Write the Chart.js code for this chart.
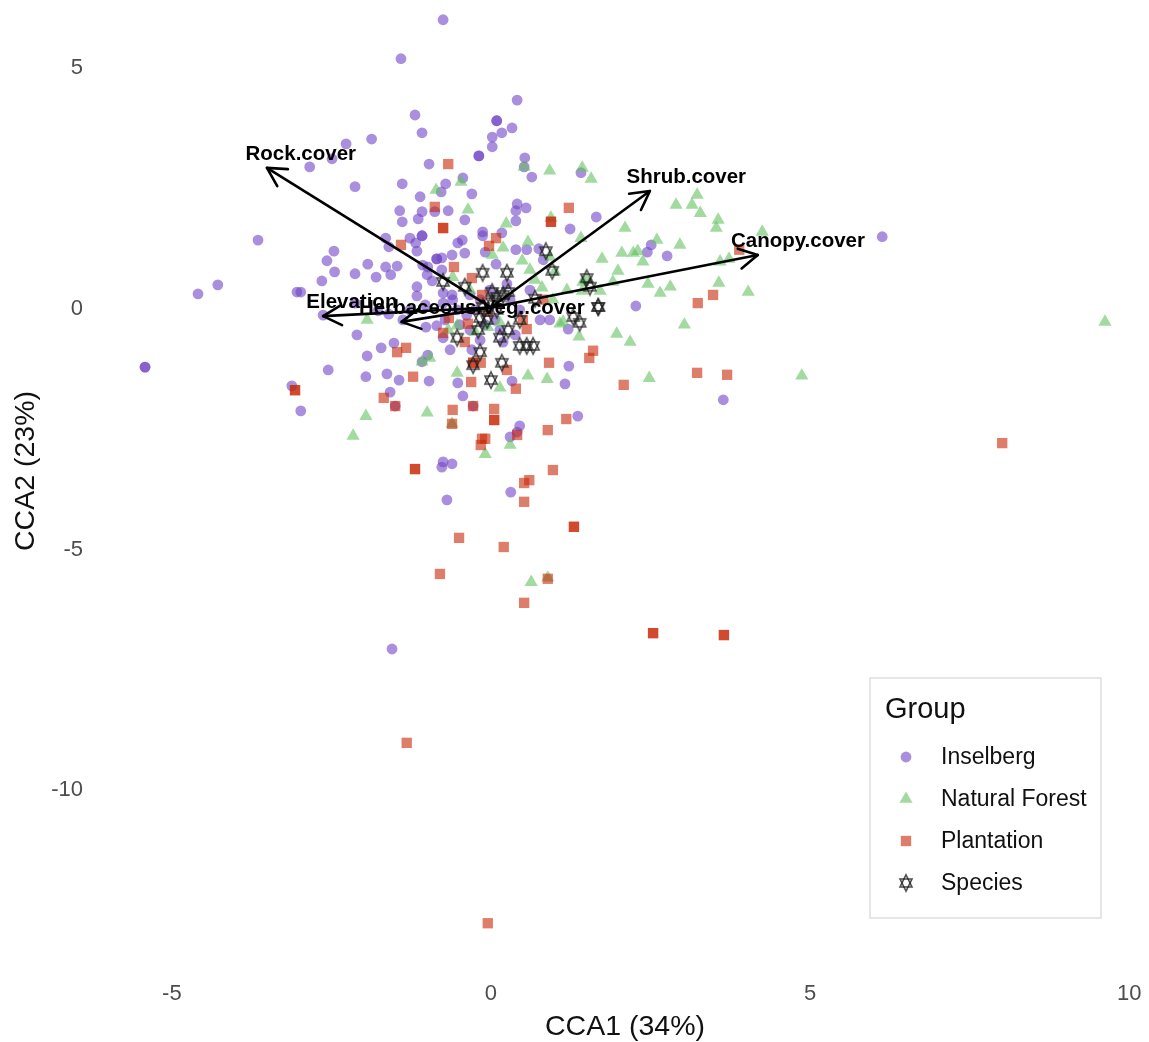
<!DOCTYPE html>
<html>
<head>
<meta charset="utf-8">
<title>CCA biplot</title>
<script src="https://cdn.jsdelivr.net/npm/chart.js@4"></script>
<style>
body { margin: 0; background: #fff; }
canvas { display: block; }
</style>
</head>
<body>
<canvas id="biplot" width="1149" height="1042"></canvas>
<script>
// values, as [CCA1, CCA2]
var inselberg = [
[-0.75,5.98],[-1.41,5.17],[0.41,4.31],[0.09,3.88],[0.09,3.88],[0.17,3.63],[0.33,3.73],[0.02,3.54],[0.02,3.34],[-0.19,3.15],
[-0.19,3.15],[-1.19,4.00],[-1.08,3.63],[-1.87,3.50],[-2.27,3.40],[-2.49,3.09],[-2.84,2.92],[-2.13,2.51],[-1.39,2.57],[-0.97,2.98],
[0.53,3.11],[0.52,2.92],[0.64,2.71],[-0.44,2.69],[-0.71,2.57],[-0.78,2.40],[-0.30,2.36],[-1.11,2.30],[-1.43,2.01],[-1.08,1.99],
[-0.88,1.99],[-0.67,2.01],[-1.14,1.84],[-1.39,1.78],[-0.41,1.82],[0.41,2.15],[0.39,2.01],[0.55,2.07],[0.39,1.80],[-0.13,1.57],
[-0.13,1.49],[0.17,1.55],[-0.52,1.34],[-0.09,1.15],[0.39,1.20],[0.56,1.20],[-1.65,1.44],[-1.60,1.26],[-1.27,1.44],[-1.08,1.49],
[-1.08,1.49],[-1.18,1.34],[-1.16,1.17],[-1.93,0.90],[-1.65,0.84],[-1.47,0.86],[-1.57,0.68],[-0.85,1.01],[-0.85,1.01],[-0.77,1.03],
[-0.61,1.09],[-0.41,1.13],[-1.07,0.88],[-0.99,0.84],[-0.77,0.78],[-1.00,0.68],[-0.92,0.55],[1.41,2.80],[1.65,1.88],[1.24,1.63],
[0.75,1.22],[0.82,0.99],[2.45,1.15],[2.51,1.30],[2.76,1.07],[2.27,0.03],[1.21,-0.45],[1.22,-1.22],[6.13,1.47],[-3.65,1.40],
[-4.28,0.47],[-4.59,0.28],[-5.42,-1.24],[-5.42,-1.24],[-2.55,-1.30],[-3.12,-1.63],[-2.98,-2.15],[-2.46,1.17],[-2.57,0.97],[-2.45,0.74],
[-2.13,0.70],[-2.65,0.55],[-1.80,0.63],[-3.04,0.32],[-2.98,0.32],[-2.63,-0.16],[-2.10,-0.57],[-1.94,-1.01],[-1.96,-1.44],[-1.16,0.43],
[-1.16,0.24],[-0.75,0.30],[-0.61,0.26],[-1.52,-0.74],[-1.72,-0.84],[-1.63,-1.38],[-1.44,-1.51],[-0.97,-1.53],[-1.58,-1.76],[-0.99,-0.99],
[-1.02,-0.41],[-0.85,-0.38],[-0.75,-0.63],[-1.38,-0.26],[-0.44,-1.84],[-0.52,-1.57],[-0.30,-0.88],[0.08,0.90],[-0.45,1.40],[0.25,0.49],
[-0.75,0.09],[-0.60,0.16],[-0.53,-0.05],[-0.38,-0.16],[0.19,-0.72],[0.33,-1.53],[1.16,-1.59],[1.36,-2.26],[0.45,-2.46],[0.41,-2.59],
[0.30,-2.69],[-0.75,-3.21],[-0.77,-3.32],[-0.61,-3.25],[0.31,-3.84],[-0.69,-4.00],[3.64,-1.92],[-1.55,-7.10],[-1.50,-2.05],[-0.28,-2.05],
[-1.08,-1.13],[-0.33,0.26],[-0.17,0.16],[-0.25,-0.05],[-0.02,0.36],[0.06,-0.26],[-0.09,-0.36],[0.30,0.16],[0.45,-0.05],[0.61,0.36],
[0.77,-0.26],[-0.33,-0.47],[-0.49,-0.36],[-0.17,-0.68],[0.14,-0.47],[0.38,-0.57],[0.92,-0.26],[-1.77,-0.07],[-1.60,-0.14],[-2.13,0.09],
[-0.64,-0.88],[-0.72,-0.26],[-1.27,-0.05],[-1.03,0.05]
];
var naturalForest = [
[-0.86,2.44],[-0.47,2.61],[-0.36,2.03],[0.24,1.74],[0.52,2.92],[0.92,2.84],[1.43,2.90],[1.57,2.67],[0.94,1.86],[2.10,1.65],
[1.41,1.44],[0.58,1.36],[0.19,1.24],[0.49,0.97],[1.74,1.01],[2.05,1.13],[2.23,1.13],[2.30,1.17],[2.38,0.95],[2.60,1.40],
[1.99,0.76],[0.61,0.78],[2.90,2.13],[3.23,2.34],[3.15,2.13],[3.28,1.96],[3.56,1.82],[3.53,1.65],[4.25,1.57],[2.96,1.30],
[3.59,0.95],[3.73,1.01],[1.91,0.53],[2.46,0.49],[2.65,0.30],[2.81,0.43],[3.57,0.51],[4.03,0.32],[3.03,-0.36],[1.97,-0.55],
[2.18,-0.72],[1.38,-0.61],[1.44,0.53],[1.71,0.34],[1.19,0.36],[1.00,0.74],[0.80,0.41],[1.13,-0.30],[1.08,-0.34],[0.92,1.05],
[0.97,0.16],[1.50,0.57],[9.62,-0.30],[4.87,-1.42],[2.48,-1.47],[-0.53,-1.36],[0.58,-1.42],[0.88,-1.49],[0.14,-1.67],[-1.96,-2.26],
[-1.00,-2.19],[-2.16,-2.67],[-0.61,-2.42],[0.30,-2.86],[-0.09,-3.05],[0.63,-5.71],[0.89,-5.62],[-1.94,-0.26],[-1.08,-1.13],[-0.96,-1.05],
[0.02,1.09],[0.69,0.57],[-0.33,0.36],[-0.60,0.63],[-0.53,-0.38],[-0.05,-0.41],[0.14,-0.32],[-0.67,-0.47],[-0.25,-0.51],[1.43,0.34]
];
var plantation = [
[-0.67,2.98],[-0.88,2.09],[-0.75,1.65],[-0.75,1.65],[1.22,2.07],[0.94,1.78],[0.94,1.78],[-1.41,1.30],[-0.58,0.84],[0.08,1.44],
[-0.03,1.28],[3.89,1.20],[3.48,0.26],[3.24,0.09],[1.60,-0.90],[1.54,-1.05],[0.91,-1.15],[-0.30,0.61],[-0.14,0.26],[-0.05,-0.09],
[-0.66,-0.22],[-0.36,-0.34],[-0.75,-0.53],[-0.41,-0.72],[-1.47,-0.93],[-1.33,-0.84],[-1.22,-1.44],[-1.68,-1.88],[-3.07,-1.72],[-3.07,-1.72],
[-0.28,-1.15],[-0.28,-1.15],[-0.16,-1.15],[-0.31,-1.55],[0.25,-1.30],[0.39,-1.69],[0.50,-0.26],[0.56,-0.45],[0.82,0.16],[-1.50,-2.05],
[-0.28,-2.05],[-0.60,-2.13],[0.05,-2.11],[0.05,-2.34],[0.05,-2.34],[-0.61,-2.42],[1.18,-2.32],[0.89,-2.55],[0.41,-2.65],[-0.14,-2.73],
[-0.09,-2.73],[-0.16,-2.86],[-1.19,-3.36],[-1.19,-3.36],[0.97,-3.38],[0.60,-3.59],[0.52,-3.65],[0.52,-4.04],[1.30,-4.56],[1.30,-4.56],
[-0.50,-4.79],[0.20,-4.98],[-0.80,-5.54],[0.89,-5.64],[0.52,-6.14],[8.01,-2.82],[3.70,-1.40],[3.23,-1.36],[2.08,-1.61],[2.54,-6.77],
[2.54,-6.77],[3.65,-6.81],[3.65,-6.81],[-1.32,-9.05],[-0.05,-12.80]
];
var species = [
[0.86,1.17],[0.96,0.76],[1.50,0.61],[1.55,0.43],[1.68,0.01],[1.68,0.01],[1.39,-0.32],[1.29,-0.20],[0.45,-0.80],[0.56,-0.80],
[0.66,-0.80],[-0.13,0.72],[0.25,0.72],[-0.75,0.53],[-0.41,0.43],[0.02,0.32],[0.27,0.32],[0.19,0.26],[0.69,0.18],[0.45,-0.26],
[0.27,-0.47],[0.14,-0.63],[-0.20,-0.47],[-0.53,-0.63],[-0.17,-0.93],[0.17,-1.15],[-0.28,-1.20],[0.00,-1.51],[-0.13,0.01],[0.09,-0.05],
[-0.17,-0.22],[-0.06,-0.26],[0.02,0.11],[0.09,0.22]
];

var arrowNames = ["Rock.cover", "Shrub.cover", "Canopy.cover", "Elevation", "Herbaceous.Veg..cover"];
var arrowX = [-3.51, 2.49, 4.18, -2.63, -1.40];
var arrowY = [2.90, 2.42, 1.09, -0.18, -0.30];
var labelX = [-2.98, 3.06, 4.81, -2.18, -0.30];
var labelY = [3.18, 2.71, 1.38, 0.10, -0.01];

var xTicks = [-5, 0, 5, 10];
var yTicks = [-10, -5, 0, 5];

var fontName = '"Liberation Sans", Arial, sans-serif';

function toPoints(list) {
	return list.map(function(p) { return { x: p[0], y: p[1] }; });
}

// the plot runs right up to the canvas edge, so drop the room kept for tick labels
function noEdgePadding(axis) {
	axis.paddingLeft = 0;
	axis.paddingRight = 0;
	axis.paddingTop = 0;
	axis.paddingBottom = 0;
}

// open star marker for the species scores
function makeStar() {
	var c = document.createElement("canvas");
	c.width = 18;
	c.height = 20;
	var g = c.getContext("2d");
	g.strokeStyle = "rgba(30,30,30,0.78)";
	g.lineWidth = 1.5;
	[0, Math.PI].forEach(function(turn) {
		g.beginPath();
		for (var i = 0; i < 3; i++) {
			var a = turn + i * 2 * Math.PI / 3;
			var px = 9 + Math.sin(a) * 7;
			var py = 10 - Math.cos(a) * 8.2;
			if (i == 0) g.moveTo(px, py); else g.lineTo(px, py);
		}
		g.closePath();
		g.stroke();
	});
	return c;
}
var starMark = makeStar();

var datasets = [
	{ label: "Inselberg", data: toPoints(inselberg), pointStyle: "circle", pointRadius: 5.4, borderWidth: 0,
	  pointBorderWidth: 0, backgroundColor: "rgba(112,68,198,0.6)", order: 6 },
	{ label: "Natural Forest", data: toPoints(naturalForest), pointStyle: "triangle", pointRadius: 7.6, borderWidth: 0,
	  pointBorderWidth: 0, backgroundColor: "rgba(100,193,97,0.6)", order: 5 },
	{ label: "Plantation", data: toPoints(plantation), pointStyle: "rect", pointRadius: 7.3, borderWidth: 0,
	  pointBorderWidth: 0, backgroundColor: "rgba(200,40,7,0.6)", order: 4 },
	{ label: "Species", data: toPoints(species), pointStyle: starMark, pointRadius: 8, borderWidth: 0,
	  pointBorderWidth: 0, backgroundColor: "rgba(30,30,30,0.85)", order: 3 }
];

// one line per environmental vector, from the origin
arrowNames.forEach(function(name, i) {
	datasets.push({
		label: name,
		data: [{ x: 0, y: 0 }, { x: arrowX[i], y: arrowY[i] }],
		showLine: true,
		pointRadius: 0,
		borderColor: "#000",
		borderWidth: 2.6,
		order: 1
	});
});

// arrow heads and vector labels
var arrowPlugin = {
	id: "arrowPlugin",
	afterDatasetsDraw: function(chart) {
		var ctx = chart.ctx;
		var sx = chart.scales.x;
		var sy = chart.scales.y;
		ctx.save();
		ctx.strokeStyle = "#000";
		ctx.lineWidth = 2.6;
		ctx.lineCap = "round";
		arrowNames.forEach(function(name, i) {
			var tx = sx.getPixelForValue(arrowX[i]);
			var ty = sy.getPixelForValue(arrowY[i]);
			var ang = Math.atan2(ty - sy.getPixelForValue(0), tx - sx.getPixelForValue(0));
			[-0.5, 0.5].forEach(function(d) {
				ctx.beginPath();
				ctx.moveTo(tx, ty);
				ctx.lineTo(tx - Math.cos(ang + d) * 21, ty - Math.sin(ang + d) * 21);
				ctx.stroke();
			});
		});
		ctx.fillStyle = "#000";
		ctx.font = "bold 20.5px " + fontName;
		ctx.textAlign = "center";
		ctx.textBaseline = "middle";
		arrowNames.forEach(function(name, i) {
			ctx.fillText(name, sx.getPixelForValue(labelX[i]), sy.getPixelForValue(labelY[i]));
		});
		ctx.restore();
	}
};

// ggplot style legend box, bottom right
var legendPlugin = {
	id: "legendPlugin",
	afterDraw: function(chart) {
		var ctx = chart.ctx;
		ctx.save();
		ctx.fillStyle = "#fff";
		ctx.strokeStyle = "#dedede";
		ctx.lineWidth = 1.5;
		ctx.fillRect(870, 678, 231, 240);
		ctx.strokeRect(870, 678, 231, 240);
		ctx.fillStyle = "#111";
		ctx.textBaseline = "middle";
		ctx.textAlign = "left";
		ctx.font = "29px " + fontName;
		ctx.fillText("Group", 885, 710);
		ctx.font = "23px " + fontName;
		for (var i = 0; i < 4; i++) {
			var ds = chart.data.datasets[i];
			var cy = 757 + i * 42;
			ctx.fillStyle = ds.backgroundColor;
			ctx.strokeStyle = ds.backgroundColor;
			ctx.lineWidth = 0;
			ctx.beginPath();
			Chart.helpers.drawPoint(ctx, { pointStyle: ds.pointStyle, radius: ds.pointRadius, borderWidth: 0 }, 906, cy);
			ctx.fillStyle = "#111";
			ctx.fillText(ds.label, 941, cy + 1);
		}
		ctx.restore();
	}
};

new Chart(document.getElementById("biplot"), {
	type: "scatter",
	data: { datasets: datasets },
	plugins: [arrowPlugin, legendPlugin],
	options: {
		responsive: false,
		animation: false,
		clip: false,
		layout: { padding: 0, autoPadding: false },
		plugins: { legend: { display: false }, tooltip: { enabled: false } },
		scales: {
			x: {
				type: "linear",
				min: -6.11,
				max: 10.31,
				border: { display: false },
				grid: { display: false, drawTicks: false },
				afterBuildTicks: function(axis) { axis.ticks = xTicks.map(function(v) { return { value: v }; }); },
				afterFit: function(axis) { axis.height = 100; noEdgePadding(axis); },
				ticks: { padding: 39, color: "#4d4d4d", font: { family: fontName, size: 22 }, maxRotation: 0 },
				title: { display: true, text: "CCA1 (34%)", color: "#111", font: { family: fontName, size: 28.5 }, padding: { top: 0, bottom: -2 } }
			},
			y: {
				type: "linear",
				min: -13.19,
				max: 6.39,
				border: { display: false },
				grid: { display: false, drawTicks: false },
				afterBuildTicks: function(axis) { axis.ticks = yTicks.map(function(v) { return { value: v }; }); },
				afterFit: function(axis) { axis.width = 101; noEdgePadding(axis); },
				ticks: { padding: 18, labelOffset: 1.5, color: "#4d4d4d", font: { family: fontName, size: 22 } },
				title: { display: true, text: "CCA2 (23%)", color: "#111", font: { family: fontName, size: 28.5 }, padding: { top: 9, bottom: 0 } }
			}
		}
	}
});
</script>
</body>
</html>
